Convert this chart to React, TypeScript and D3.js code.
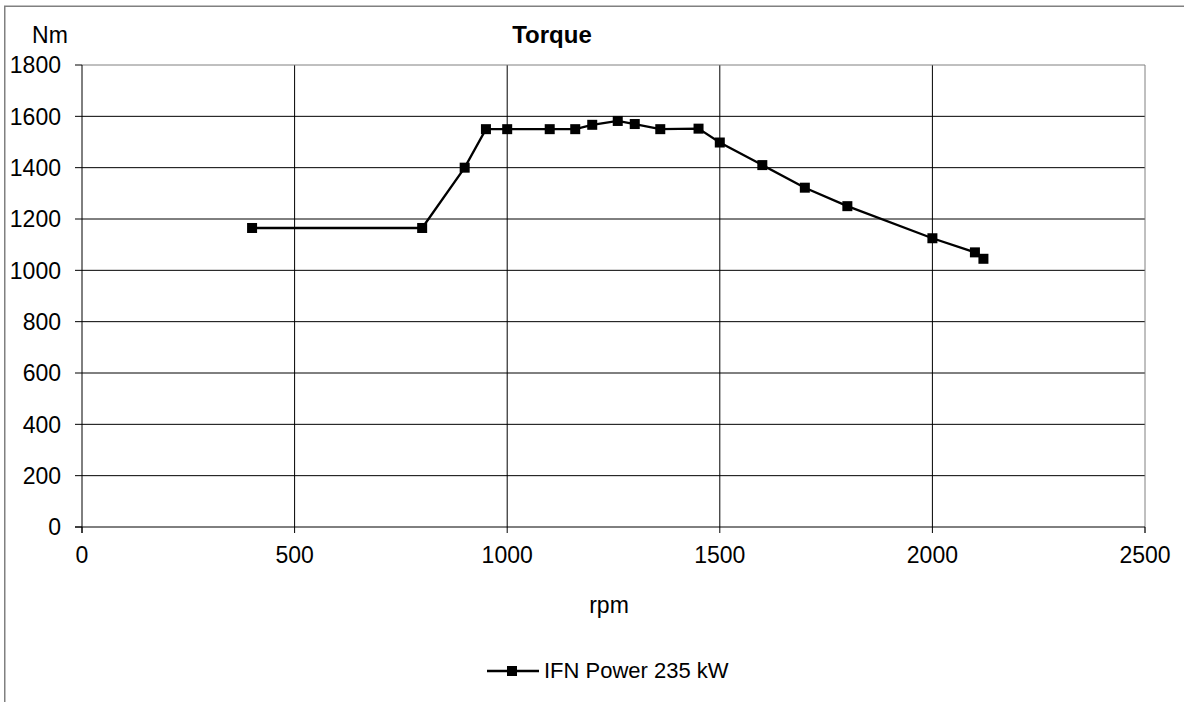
import React from "react";
import * as d3 from "d3";

const rpm = [400, 800, 900, 950, 1000, 1100, 1160, 1200, 1260, 1300, 1360, 1450, 1500, 1600, 1700, 1800, 2000, 2100, 2120];
const torque = [1165, 1165, 1400, 1550, 1550, 1550, 1550, 1567, 1582, 1570, 1550, 1552, 1498, 1410, 1322, 1250, 1125, 1070, 1045];
const xTicks = [0, 500, 1000, 1500, 2000, 2500];
const yTicks = [0, 200, 400, 600, 800, 1000, 1200, 1400, 1600, 1800];
const seriesName = "IFN Power 235 kW";
const title = "Torque";
const xTitle = "rpm";
const yTitle = "Nm";

export default function App() {
  const W = 1184, H = 702;
  const left = 82, right = 1145, top = 65, bottom = 527;
  const x = d3.scaleLinear().domain([0, 2500]).range([left, right]);
  const y = d3.scaleLinear().domain([0, 1800]).range([bottom, top]);
  const data = rpm.map((r, i) => [r, torque[i]] as [number, number]);
  const line = d3.line<[number, number]>().x(d => x(d[0])).y(d => y(d[1]));
  const font = "'Liberation Sans', Arial, sans-serif";
  const fs = 23;
  return (
    <svg width={W} height={H} style={{ position: "absolute", left: 0, top: 0, background: "#fff" }} fontFamily={font}>
      <rect x={0} y={0} width={W} height={H} fill="#fff" />
      <rect x={4.75} y={6.25} width={W + 20} height={H + 20} fill="none" stroke="#808080" strokeWidth={1.5} />
      {yTicks.filter(t => t > 0 && t < 1800).map(t => (
        <line key={"gy" + t} x1={left} x2={right} y1={y(t)} y2={y(t)} stroke="#000" strokeWidth={1} />
      ))}
      {xTicks.filter(t => t > 0 && t < 2500).map(t => (
        <line key={"gx" + t} x1={x(t)} x2={x(t)} y1={top} y2={bottom} stroke="#000" strokeWidth={1} />
      ))}
      <line x1={left} x2={right} y1={top} y2={top} stroke="#808080" strokeWidth={1} />
      <line x1={right} x2={right} y1={top} y2={bottom + 6} stroke="#808080" strokeWidth={1} />
      <line x1={left} x2={left} y1={top} y2={bottom + 6} stroke="#000" strokeWidth={1} />
      <line x1={left - 7} x2={right} y1={bottom} y2={bottom} stroke="#000" strokeWidth={1} />
      {yTicks.map(t => (
        <g key={"ty" + t}>
          <line x1={left - 7} x2={left} y1={y(t)} y2={y(t)} stroke="#000" strokeWidth={1} />
          <text x={61} y={y(t)} dy="0.36em" textAnchor="end" fontSize={fs} fill="#000">{t}</text>
        </g>
      ))}
      {xTicks.map(t => (
        <g key={"tx" + t}>
          <line x1={x(t)} x2={x(t)} y1={bottom} y2={bottom + 6} stroke="#000" strokeWidth={1} />
          <text x={x(t)} y={563} textAnchor="middle" fontSize={fs} fill="#000">{t}</text>
        </g>
      ))}
      <text x={50} y={43} textAnchor="middle" fontSize={fs} fill="#000">{yTitle}</text>
      <text x={552} y={43} textAnchor="middle" fontSize={24} fontWeight="bold" fill="#000">{title}</text>
      <text x={609} y={613} textAnchor="middle" fontSize={fs} fill="#000">{xTitle}</text>
      <path d={line(data) || ""} fill="none" stroke="#000" strokeWidth={2.3} />
      {data.map((d, i) => (
        <rect key={"m" + i} x={x(d[0]) - 5} y={y(d[1]) - 5} width={10} height={10} fill="#000" />
      ))}
      <line x1={487} x2={539} y1={671} y2={671} stroke="#000" strokeWidth={2.3} />
      <rect x={507} y={666} width={10} height={10} fill="#000" />
      <text x={544} y={678} fontSize={22} fill="#000">{seriesName}</text>
    </svg>
  );
}
